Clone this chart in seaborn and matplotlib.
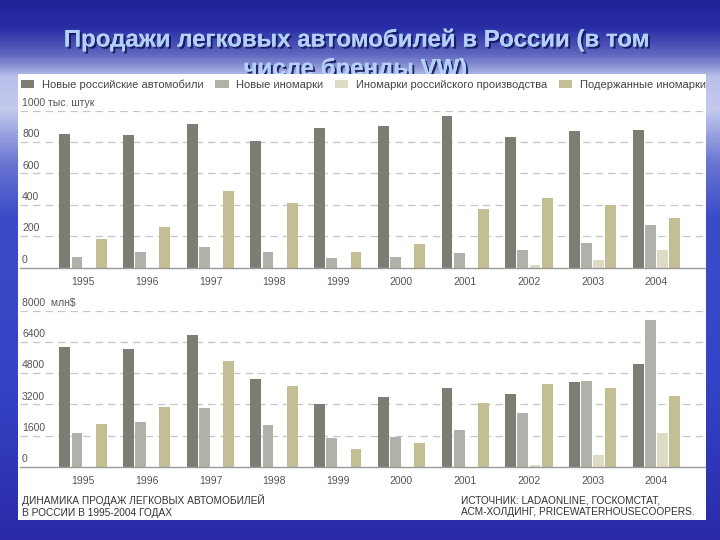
import numpy as np
import pandas as pd
import matplotlib
matplotlib.use("Agg")
import matplotlib.pyplot as plt
import seaborn as sns
from matplotlib.patches import Rectangle, Patch
from matplotlib.colors import LinearSegmentedColormap
from matplotlib.transforms import blended_transform_factory
import matplotlib.patheffects as pe

# ---------------- data ----------------
years = ["1995", "1996", "1997", "1998", "1999", "2000", "2001", "2002", "2003", "2004"]
series = ["Новые российские автомобили", "Новые иномарки",
          "Иномарки российского производства", "Подержанные иномарки"]

units_new_russian = [853, 844, 916, 808, 887, 904, 966, 834, 868, 877]
units_new_foreign = [70, 97, 129, 102, 63, 68, 91, 113, 160, 272]
units_russian_made_foreign = [0, 0, 0, 0, 0, 0, 0, 17, 49, 115]
units_used_foreign = [182, 258, 489, 410, 102, 149, 374, 445, 396, 315]

value_new_russian = [6150, 6020, 6735, 4480, 3215, 3555, 4015, 3725, 4325, 5265]
value_new_foreign = [1745, 2290, 3025, 2135, 1485, 1540, 1865, 2735, 4410, 7520]
value_russian_made_foreign = [0, 0, 0, 0, 0, 0, 0, 85, 600, 1710]
value_used_foreign = [2190, 3075, 5435, 4135, 890, 1230, 3250, 4240, 4035, 3625]

units_ticks = [200, 400, 600, 800, 1000]
units_ticklabels = ["200", "400", "600", "800", "1000 тыс. штук"]
value_ticks = [1600, 3200, 4800, 6400, 8000]
value_ticklabels = ["1600", "3200", "4800", "6400", "8000  млн$"]

title_line1 = "Продажи легковых автомобилей в России (в том"
title_line2 = "числе бренды VW)"
caption_left = "ДИНАМИКА ПРОДАЖ ЛЕГКОВЫХ АВТОМОБИЛЕЙ\nВ РОССИИ В 1995-2004 ГОДАХ"
caption_right = "ИСТОЧНИК: LADAONLINE, ГОСКОМСТАТ,\nАСМ-ХОЛДИНГ, PRICEWATERHOUSECOOPERS."

palette = ["#7d7d74", "#b1b1ab", "#dedbc5", "#c3be93"]


def long_df(a, b, c, d):
    rows = []
    for s, vals in zip(series, [a, b, c, d]):
        for y, v in zip(years, vals):
            rows.append({"year": y, "series": s, "value": v})
    return pd.DataFrame(rows)


df_units = long_df(units_new_russian, units_new_foreign, units_russian_made_foreign, units_used_foreign)
df_value = long_df(value_new_russian, value_new_foreign, value_russian_made_foreign, value_used_foreign)

# ---------------- figure ----------------
sns.set_theme(style="white")
plt.rcParams["font.family"] = ["Liberation Sans", "DejaVu Sans"]

W, H = 720, 540
fig = plt.figure(figsize=(W / 100, H / 100), dpi=100)

# background gradient
bg = fig.add_axes([0, 0, 1, 1], zorder=-10)
cmap = LinearSegmentedColormap.from_list("bg", [
    (0.0, "#1f2196"), (0.05, "#2a2ea6"), (0.1, "#6068c0"), (0.14, "#b8bfea"),
    (0.2, "#c4caee"), (0.3, "#6a76d2"), (0.4, "#3c4cc8"), (0.7, "#3444c6"),
    (0.9, "#2e34b4"), (1.0, "#2a2aa6")])
grad = np.linspace(0, 1, 540).reshape(-1, 1)
bg.imshow(grad, cmap=cmap, aspect="auto", extent=[0, 1, 1, 0])
bg.set_xlim(0, 1)
bg.set_ylim(1, 0)
bg.axis("off")

# title (partly hidden by the white panel)
for txt, yc in [(title_line1, 40), (title_line2, 69)]:
    fig.text(0.493, 1 - yc / H, txt, ha="center", va="center", fontsize=17.3,
             fontweight="bold", color="#b2d1f8", zorder=-5,
             path_effects=[pe.withSimplePatchShadow(offset=(1.5, -1.5),
                                                    shadow_rgbFace="#14145a", alpha=0.85),
                           pe.Normal()])

# white panel
fig.patches.append(Rectangle((18 / W, 1 - 520 / H), 688 / W, 446 / H,
                             transform=fig.transFigure, facecolor="white",
                             edgecolor="none", zorder=-2))

xmin, xmax = (20 - 83) / 63.7, (705 - 83) / 63.7
tick_color = "#555555"


def draw(ax, df, ymax, ticks, ticklabels):
    sns.barplot(data=df, x="year", y="value", hue="series", palette=palette,
                hue_order=series, order=years, width=0.76, gap=0.1,
                saturation=1, linewidth=0, errorbar=None, legend=False, ax=ax)
    ax.set_facecolor("none")
    ax.set_xlim(xmin, xmax)
    ax.set_ylim(0, ymax)
    ax.set_xlabel("")
    ax.set_ylabel("")
    for s in ["top", "left", "right"]:
        ax.spines[s].set_visible(False)
    ax.spines["bottom"].set_color("#9a9a9a")
    ax.spines["bottom"].set_linewidth(1.0)
    ax.set_yticks(ticks)
    ax.set_yticklabels([])
    ax.tick_params(axis="y", length=0)
    ax.yaxis.grid(True, linestyle=(0, (6, 4)), color="#c6c6c6", linewidth=0.9)
    ax.set_axisbelow(True)
    ax.set_xticks(range(len(years)))
    ax.set_xticklabels(years, fontsize=7.5, color=tick_color)
    ax.tick_params(axis="x", which="major", length=0, pad=7)
    ax.set_xticks(np.arange(len(years) + 1) - 0.5, minor=True)
    ax.tick_params(axis="x", which="minor", length=4, width=1.2,
                   direction="in", color="#555555")
    tr = blended_transform_factory(ax.transAxes, ax.transData)
    for v, lab in zip([0] + ticks, ["0"] + ticklabels):
        ax.annotate(lab, xy=(0.003, v), xycoords=tr, xytext=(0, 2),
                    textcoords="offset points", ha="left", va="bottom",
                    fontsize=7.5, color=tick_color, annotation_clip=False)


ax1 = fig.add_axes([20 / W, 1 - 267.7 / H, 685 / W, (267.7 - 110.5) / H])
draw(ax1, df_units, 1000, units_ticks, units_ticklabels)
ax2 = fig.add_axes([20 / W, 1 - 466.7 / H, 685 / W, (466.7 - 310.7) / H])
draw(ax2, df_value, 8000, value_ticks, value_ticklabels)

# legend
handles = [Patch(facecolor=c, edgecolor="none") for c in palette]
fig.legend(handles, series, loc="lower left", ncol=4, mode="expand",
           bbox_to_anchor=(21 / W, 1 - 90 / H, 685 / W, 14 / H),
           frameon=False, fontsize=8, handlelength=1.2, handleheight=0.8,
           handletextpad=0.7, columnspacing=1.0, borderaxespad=0,
           borderpad=0, labelcolor="#444444")

# captions
fig.text(22 / W, 1 - 506 / H, caption_left, ha="left", va="center",
         fontsize=7.3, color="#333333", linespacing=1.2)
fig.text(461 / W, 1 - 506 / H, caption_right, ha="left", va="center",
         fontsize=7.3, color="#333333", linespacing=1.2)

fig.savefig("out.png", dpi=100)
